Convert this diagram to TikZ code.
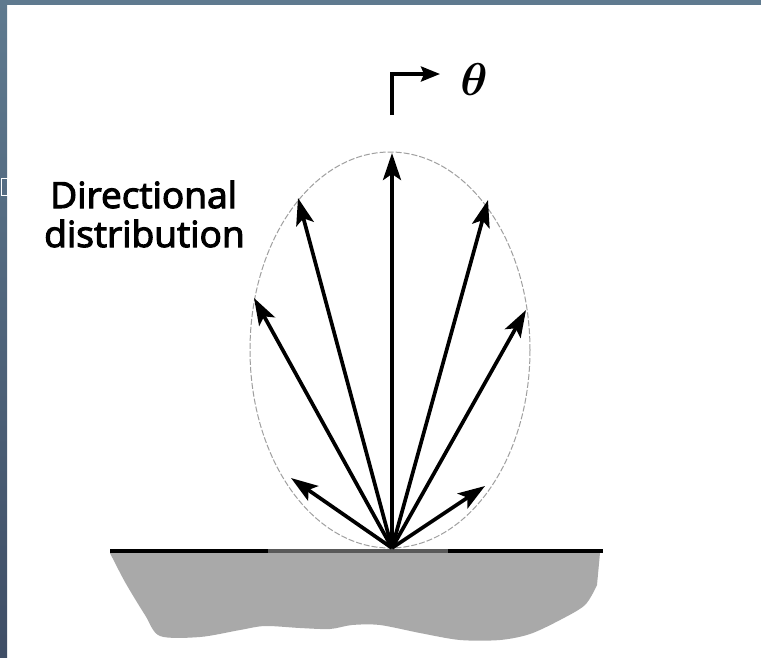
\documentclass[tikz,border=0pt]{standalone}
\usepackage{fontspec}
\newfontfamily\lblfont[FakeBold=3]{Open Sans}
\usepackage{amsmath,bm}
\usetikzlibrary{arrows.meta}
\definecolor{frametop}{HTML}{5F7A8F}
\definecolor{framebot}{HTML}{3F4E66}
\definecolor{ground}{HTML}{A9A9A9}
\begin{document}
\begin{tikzpicture}[x=1pt,y=-1pt,
  ray/.style={line width=3.7pt,-{Stealth[length=27pt,width=18pt,inset=6pt]}},
  label/.style={font=\lblfont\fontsize{36}{40}\selectfont,inner sep=0pt,anchor=base west},
  lobe/.style={gray!75,line width=1pt,dash pattern=on 6pt off 2pt}]
\useasboundingbox (0,0) rectangle (761,657);
\fill[white] (0,0) rectangle (761,657);
% frame
\fill[frametop] (0,0) rectangle (761,5);
\shade[top color=frametop,bottom color=framebot] (0,0) rectangle (7,657);
\draw[white,line width=0.8pt] (1.5,178) rectangle (7,195);
% ground
\fill[ground] plot[smooth] coordinates {(110,553) (125,582) (145,615) (160,636) (200,637) (240,630) (265,626) (300,628) (330,629) (352,625) (380,625) (420,633) (460,640) (500,640) (530,634) (560,620) (585,605) (597,585)} -- (600,553) -- cycle;
\draw[line width=4pt] (110,551) -- (268,551);
\draw[line width=4pt,black!65] (268,551) -- (448,551);
\draw[line width=4pt] (448,551) -- (603,551);
% lobe
\draw[lobe] (390,350) ellipse [x radius=140, y radius=198];
% rays
\coordinate (O) at (392,548);
\coordinate (t1) at (392,153);
\coordinate (t2) at (298,198);
\coordinate (t3) at (488,200);
\coordinate (t4) at (254,298);
\coordinate (t5) at (526,310);
\coordinate (t6) at (291,478);
\coordinate (t7) at (485,486);
\foreach \t in {t1,t2,t3,t4,t5,t6,t7} \draw[ray] (O) -- (\t);
% theta indicator
\coordinate (a0) at (392,115);
\coordinate (a1) at (392,74);
\coordinate (a2) at (440,74);
\draw[line width=3.5pt,-{Stealth[length=19pt,width=15pt,inset=3pt]}] (a0) -- (a1) -- (a2);
\node[inner sep=0pt] (theta) at (474,80) {\scalebox{4.6}{$\bm{\theta}$}};
% labels
\node[label] (dir) at (50,208) {\scalebox{1.03}[1]{Directional}};
\node[label] (dist) at (44,247) {\scalebox{1.03}[1]{distribution}};
\end{tikzpicture}
\end{document}
